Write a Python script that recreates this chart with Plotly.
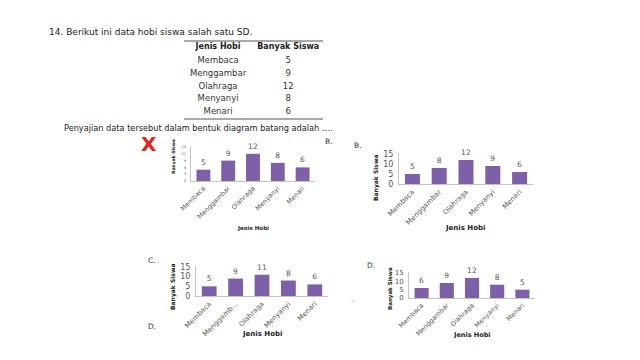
import plotly.graph_objects as go

# ---- data ----
categories = ["Membaca", "Menggambar", "Olahraga", "Menyanyi", "Menari"]
table_siswa = [5, 9, 12, 8, 6]
values_a = [5, 9, 12, 8, 6]
values_b = [5, 8, 12, 9, 6]
values_c = [5, 9, 11, 8, 6]
values_d = [6, 9, 12, 8, 5]
ticklabels_c = ["Membaca", "Menggamb...", "Olahraga", "Menyanyi", "Menari"]
y_ticks = [0, 5, 10, 15]
y_ticks_a = [0, 3, 6, 9, 12, 15]

W, H = 640, 360
FONT = "DejaVu Sans"
BAR = "#7d60a7"
AX = "#c4c4c4"
TXT = "#555555"

def px(x):
    return x / W

def py(y):
    return 1 - y / H

fig = go.Figure()

# chart panels: (values, ticklabels, x0, x1, base, top, ymax, yticks, ticksize, catsize)
panels = [
    (values_a, categories, 191, 315, 181, 147, 15, y_ticks_a, 3.5, 6.5),
    (values_b, categories, 399, 533, 184, 153, 15.5, y_ticks, 8, 7),
    (values_c, ticklabels_c, 196, 328, 296, 266, 15.5, y_ticks, 8, 7),
    (values_d, categories, 409, 535, 298, 272, 15.6, y_ticks, 7, 6.5),
]

for i, (vals, tl, x0, x1, base, top, ymax, yt, tsize, csize) in enumerate(panels, start=1):
    xa = "x" if i == 1 else f"x{i}"
    ya = "y" if i == 1 else f"y{i}"
    fig.add_trace(go.Bar(
        x=categories, y=vals, xaxis=xa, yaxis=ya,
        marker=dict(color=BAR, line=dict(width=0)),
        width=0.56,
        text=[str(v) for v in vals], textposition="outside",
        textfont=dict(family=FONT, size=7.5, color=TXT),
        cliponaxis=False, hoverinfo="skip",
    ))
    xkey = "xaxis" if i == 1 else f"xaxis{i}"
    ykey = "yaxis" if i == 1 else f"yaxis{i}"
    fig.update_layout(**{
        xkey: dict(
            domain=[px(x0), px(x1)], anchor=ya, type="category",
            categoryorder="array", categoryarray=categories,
            tickvals=categories, ticktext=tl,
            showline=True, linecolor=AX, linewidth=1,
            showgrid=False, zeroline=False, ticks="",
            tickangle=-45, tickfont=dict(family=FONT, size=csize, color="#555"),
            fixedrange=True, automargin=False,
        ),
        ykey: dict(
            domain=[py(base), py(top)], anchor=xa, range=[0, ymax],
            tickvals=yt, showline=True, linecolor=AX, linewidth=1,
            showgrid=False, zeroline=False, ticks="",
            tickfont=dict(family=FONT, size=tsize, color="#555"),
            ticklabelstandoff=3, fixedrange=True, automargin=False,
        ),
    })

# ---- table (text trace on hidden axes) ----
col_hobi, col_siswa = 0.245, 0.75
rows = list(range(len(categories)))
fig.add_trace(go.Scatter(
    x=[col_hobi] * len(categories) + [col_siswa] * len(categories),
    y=rows + rows,
    text=categories + [str(v) for v in table_siswa],
    mode="text", xaxis="x5", yaxis="y5",
    textfont=dict(family=FONT, size=8.5, color="#333"),
    hoverinfo="skip",
))
fig.add_trace(go.Scatter(
    x=[col_hobi, col_siswa], y=[-1.1, -1.1],
    text=["<b>Jenis Hobi</b>", "<b>Banyak Siswa</b>"],
    mode="text", xaxis="x5", yaxis="y5",
    textfont=dict(family=FONT, size=8, color="#222"),
    hoverinfo="skip",
))
fig.update_layout(
    xaxis5=dict(domain=[px(184), px(323)], range=[0, 1], anchor="y5",
                visible=False, fixedrange=True),
    yaxis5=dict(domain=[py(119), py(41)], range=[4.55, -1.57], anchor="x5",
                visible=False, fixedrange=True),
)
for yd in (0, 1):
    fig.add_shape(type="line", xref="x5 domain", yref="y5 domain",
                  x0=0, x1=1, y0=yd, y1=yd, line=dict(color="#555", width=1))

# ---- texts ----
ann = []

def add_text(x, y, text, size=8, color="#333", xanchor="left", angle=0, bold=False):
    ann.append(dict(
        x=px(x), y=py(y), xref="paper", yref="paper", showarrow=False,
        text=f"<b>{text}</b>" if bold else text, textangle=angle,
        xanchor=xanchor, yanchor="middle",
        font=dict(family=FONT, size=size, color=color),
    ))

add_text(47, 32, "14. Berikut ini data hobi siswa salah satu SD.", 9, "#222")
add_text(62, 128, "Penyajian data tersebut dalam bentuk diagram batang adalah ….", 8.2, "#222")
add_text(149, 144, "X", 20, "#e3231b", "center", bold=True)
add_text(323, 142, "B.", 7.5)
add_text(352, 145, "B.", 7.5)
add_text(146, 260, "C.", 7.5)
add_text(146, 326, "D.", 7.5)
add_text(365, 265, "D.", 7.5)
add_text(353, 301, "–", 7, "#888", "center")

# axis titles
add_text(173, 157, "Banyak Siswa", 4.5, "#222", "center", -90, True)
add_text(376, 178, "Banyak Siswa", 6, "#222", "center", -90, True)
add_text(173, 287, "Banyak Siswa", 6, "#222", "center", -90, True)
add_text(390, 289, "Banyak Siswa", 5.5, "#222", "center", -90, True)
add_text(253, 228, "Jenis Hobi", 5.5, "#222", "center", bold=True)
add_text(465, 228, "Jenis Hobi", 7, "#222", "center", bold=True)
add_text(262, 334, "Jenis Hobi", 7, "#222", "center", bold=True)
add_text(472, 335, "Jenis Hobi", 6.5, "#222", "center", bold=True)

fig.update_layout(
    width=W, height=H,
    margin=dict(l=0, r=0, t=0, b=0, autoexpand=False),
    paper_bgcolor="white", plot_bgcolor="white",
    showlegend=False, bargap=0.44, annotations=ann,
    font=dict(family=FONT),
)

fig.write_html(
    "out.html",
    config={"displayModeBar": False},
    post_script="document.body.style.margin='0';document.body.style.overflow='hidden';",
)
